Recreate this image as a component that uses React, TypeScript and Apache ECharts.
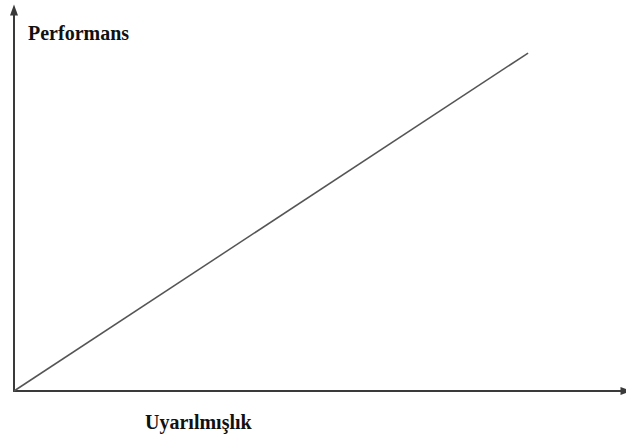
import React, { useEffect, useRef } from "react";
import * as echarts from "echarts";

const xTitle = "Uyarılmışlık";
const yTitle = "Performans";
const lineX = [0, 84];
const lineY = [0, 88.7];

export default function App() {
  const ref = useRef<HTMLDivElement>(null);
  useEffect(() => {
    if (!ref.current) return;
    const chart = echarts.init(ref.current, null, { renderer: "svg" });
    const axisCommon = {
      type: "value" as const,
      min: 0,
      max: 100,
      axisLine: {
        show: true,
        symbol: ["none", "triangle"],
        symbolSize: [8, 11],
        lineStyle: { color: "#3a3a3a", width: 2 },
      },
      axisTick: { show: false },
      axisLabel: { show: false },
      splitLine: { show: false },
    };
    chart.setOption({
      animation: false,
      backgroundColor: "#ffffff",
      grid: { left: 14, right: 0, top: 10, bottom: 50 },
      xAxis: axisCommon,
      yAxis: axisCommon,
      series: [
        {
          type: "line",
          data: lineX.map((x, i) => [x, lineY[i]]),
          symbol: "none",
          lineStyle: { color: "#555555", width: 1.5 },
        },
      ],
      graphic: [
        {
          type: "text",
          x: 28,
          y: 33,
          style: {
            text: yTitle,
            fontFamily: "Liberation Serif",
            fontWeight: "bold",
            fontSize: 20,
            fill: "#111111",
            textVerticalAlign: "middle",
          },
        },
        {
          type: "text",
          x: 145,
          y: 422,
          style: {
            text: xTitle,
            fontFamily: "Liberation Serif",
            fontWeight: "bold",
            fontSize: 20,
            fill: "#111111",
            textVerticalAlign: "middle",
          },
        },
      ],
    });
    return () => chart.dispose();
  }, []);
  return (
    <div
      ref={ref}
      style={{ position: "absolute", left: 0, top: 0, width: 626, height: 441 }}
    />
  );
}
